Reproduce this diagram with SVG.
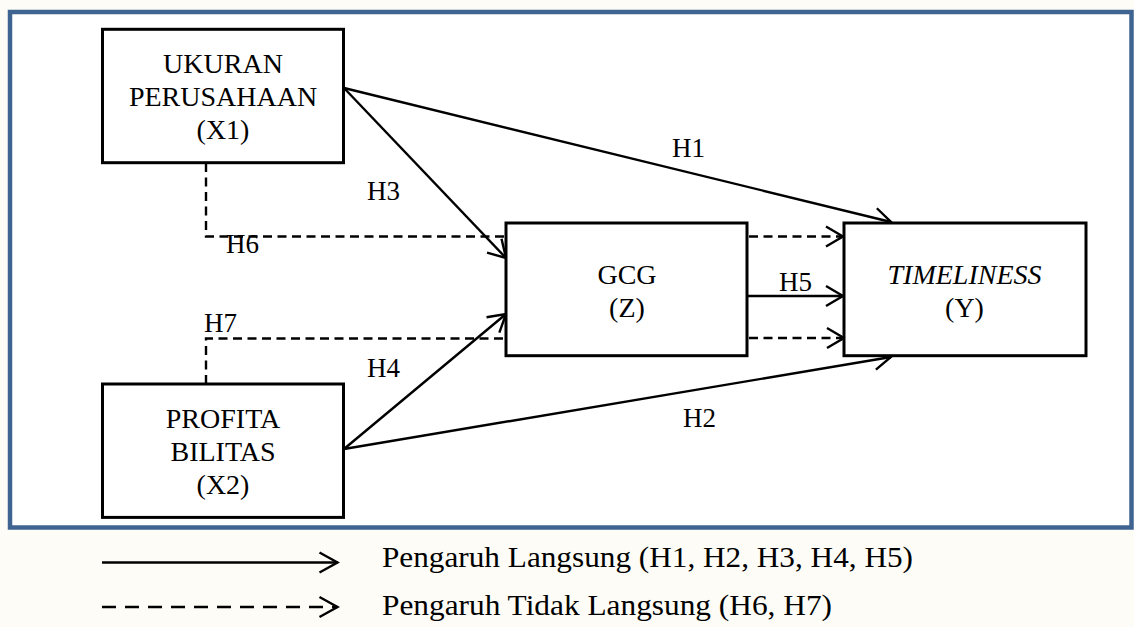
<svg xmlns="http://www.w3.org/2000/svg" width="1134" height="627" viewBox="0 0 1134 627">
  <style>
    .box { fill: #ffffff; stroke: #000000; stroke-width: 3; }
    .t { font-family: "Liberation Serif", "Times New Roman", serif; font-size: 28px; fill: #000000; text-anchor: middle; }
    .lbl { font-family: "Liberation Serif", "Times New Roman", serif; font-size: 27px; fill: #000000; }
    .leg { font-family: "Liberation Serif", "Times New Roman", serif; font-size: 30px; fill: #000000; }
    .solid { fill: none; stroke: #000000; stroke-width: 2.4; }
    .dash { fill: none; stroke: #000000; stroke-width: 2.4; stroke-dasharray: 9 5.5; }
    .dashleg { fill: none; stroke: #000000; stroke-width: 2.4; stroke-dasharray: 14 9; }
  </style>
  <defs>
    <marker id="arr" markerUnits="userSpaceOnUse" markerWidth="24" markerHeight="26" viewBox="-21 -13 24 26" refX="0" refY="0" orient="auto">
      <path d="M-17,-10 L0,0 L-17,10" fill="none" stroke="#000000" stroke-width="2.4"/>
    </marker>
    <marker id="arrleg" markerUnits="userSpaceOnUse" markerWidth="26" markerHeight="26" viewBox="-22 -13 26 26" refX="0" refY="0" orient="auto">
      <path d="M-18,-10 L0,0 L-18,10" fill="none" stroke="#000000" stroke-width="2.4"/>
    </marker>
  </defs>
  <rect x="0" y="0" width="1134" height="627" fill="#fdfcf6"/>
  <rect id="frame" x="10" y="12" width="1121.5" height="515.5" fill="#ffffff" stroke="#3f6491" stroke-width="4.5"/>

  <g id="connectors">
    <line class="solid" x1="344" y1="88" x2="891" y2="222" marker-end="url(#arr)"/>
    <line class="solid" x1="344" y1="88" x2="506" y2="258" marker-end="url(#arr)"/>
    <line class="solid" x1="344" y1="449" x2="891" y2="357" marker-end="url(#arr)"/>
    <line class="solid" x1="344" y1="449" x2="506" y2="314" marker-end="url(#arr)"/>
    <line class="solid" x1="742" y1="296" x2="843" y2="296" marker-end="url(#arr)"/>
    <path class="dash" d="M206,163 V236.5 H506"/>
    <path class="dash" d="M206,384 V338.5 H506"/>
    <path class="dash" d="M749,236.5 H843" marker-end="url(#arr)"/>
    <path class="dash" d="M749,338 H844" marker-end="url(#arr)"/>
    <text class="lbl" x="672" y="157">H1</text>
    <text class="lbl" x="683" y="427">H2</text>
    <text class="lbl" x="367" y="200">H3</text>
    <text class="lbl" x="367" y="377">H4</text>
    <text class="lbl" x="779" y="291">H5</text>
    <text class="lbl" x="226" y="253">H6</text>
    <text class="lbl" x="204" y="332">H7</text>
  </g>

  <g id="x1">
    <rect class="box" x="102.5" y="29.3" width="241" height="133.4"/>
    <text class="t" x="223" y="72.7">UKURAN</text>
    <text class="t" x="223" y="106">PERUSAHAAN</text>
    <text class="t" x="223" y="139">(X1)</text>
  </g>

  <g id="x2">
    <rect class="box" x="102.5" y="384" width="241" height="133.4"/>
    <text class="t" x="223" y="428">PROFITA</text>
    <text class="t" x="223" y="461">BILITAS</text>
    <text class="t" x="223" y="494">(X2)</text>
  </g>

  <g id="z">
    <rect class="box" x="506" y="223" width="241" height="132.7"/>
    <text class="t" x="627" y="284">GCG</text>
    <text class="t" x="627" y="317">(Z)</text>
  </g>

  <g id="y">
    <rect class="box" x="844" y="223" width="242" height="132.7"/>
    <text class="t" x="964.5" y="284" font-style="italic">TIMELINESS</text>
    <text class="t" x="964.5" y="317">(Y)</text>
  </g>

  <g id="legend">
    <line class="solid" x1="102" y1="562.5" x2="337.5" y2="562.5" marker-end="url(#arrleg)"/>
    <line class="dashleg" x1="102" y1="607" x2="337.5" y2="607" marker-end="url(#arrleg)"/>
    <text class="leg" x="382" y="566.7" textLength="531" lengthAdjust="spacingAndGlyphs">Pengaruh Langsung (H1, H2, H3, H4, H5)</text>
    <text class="leg" x="382" y="615" textLength="450" lengthAdjust="spacingAndGlyphs">Pengaruh Tidak Langsung (H6, H7)</text>
  </g>
</svg>
